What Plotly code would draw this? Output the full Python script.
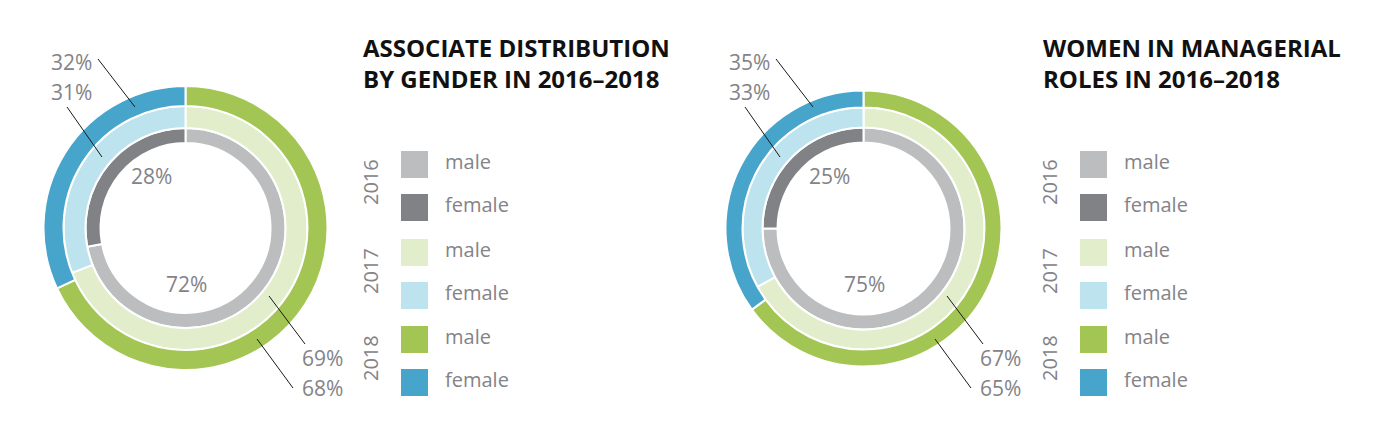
import plotly.graph_objects as go

W, H = 1384, 444
OFF = 8  # browser body margin compensation

years = ["2016", "2017", "2018"]
genders = ["male", "female"]
assoc_male = [72, 69, 68]
assoc_female = [28, 31, 32]
mgr_male = [75, 67, 65]
mgr_female = [25, 33, 35]
titles = ["ASSOCIATE DISTRIBUTION<br>BY GENDER IN 2016–2018",
          "WOMEN IN MANAGERIAL<br>ROLES IN 2016–2018"]

male_colors = ["#bcbdbf", "#e2edcb", "#a2c554"]
female_colors = ["#808285", "#bde3ee", "#47a4cb"]
TXT = "#838388"
FONT = "Open Sans"

fig = go.Figure()


def xp(v):
    return (v - OFF) / W


def yp(v):
    return 1 - (v - OFF) / H


def px_domain(cx, cy, r):
    return dict(x=[xp(cx - r), xp(cx + r)], y=[yp(cy + r), yp(cy - r)])


charts = [
    dict(cx=185.5, cy=228, rings=[(100, 85), (122, 100), (142, 122)],
         male=assoc_male, female=assoc_female, tx=362, lx=401),
    dict(cx=863.5, cy=228.5, rings=[(101, 86), (121, 101), (138, 121)],
         male=mgr_male, female=mgr_female, tx=1042, lx=1080),
]

for c in charts:
    for i, (ro, ri) in enumerate(c["rings"]):
        fig.add_trace(go.Pie(
            values=[c["male"][i], c["female"][i]],
            labels=[f"{years[i]} male", f"{years[i]} female"],
            marker=dict(colors=[male_colors[i], female_colors[i]],
                        line=dict(color="white", width=2)),
            hole=ri / ro, sort=False, direction="clockwise", rotation=0,
            textinfo="none", showlegend=False, hoverinfo="label+value",
            domain=px_domain(c["cx"], c["cy"], ro),
        ))

anns = []
shapes = []


def label(x, y, text, xanchor="center", size=21, color=TXT, **kw):
    anns.append(dict(x=xp(x), y=yp(y), xref="paper", yref="paper", text=text,
                     showarrow=False, xanchor=xanchor, yanchor="middle",
                     font=dict(family=FONT, size=size, color=color), **kw))


def line(x0, y0, x1, y1):
    shapes.append(dict(type="line", xref="paper", yref="paper",
                       x0=xp(x0), y0=yp(y0), x1=xp(x1), y1=yp(y1),
                       line=dict(color="#1a1a1a", width=1)))


ox = [0, 678]
for k, c in enumerate(charts):
    dx = ox[k]
    m, f = c["male"], c["female"]
    label(94 + dx, 62, f"{f[2]}%", xanchor="right")
    label(94 + dx, 92, f"{f[1]}%", xanchor="right")
    line(98 + dx, 59, 135 + dx, 107)
    line(67 + dx, 107, 102 + dx, 157)
    label(151 + dx, 176, f"{f[0]}%")
    label(186 + dx, 284, f"{m[0]}%")
    label(300 + dx, 358, f"{m[1]}%", xanchor="left")
    label(300 + dx, 388, f"{m[2]}%", xanchor="left")
    line(269 + dx, 296, 305 + dx, 344)
    line(257 + dx, 339, 293 + dx, 388)

    anns.append(dict(x=xp(c["tx"] - 1), y=yp(63), xref="paper", yref="paper",
                     text=f"<b>{titles[k]}</b>", showarrow=False,
                     xanchor="left", yanchor="middle", align="left",
                     font=dict(family=FONT, size=24, color="#111111")))
    lx = c["lx"]
    sq_y = [164.5, 207.5, 252.5, 295.5, 339.5, 382.5]
    cols = []
    names = []
    for i in range(3):
        cols += [male_colors[i], female_colors[i]]
        names += genders
    for j, yy in enumerate(sq_y):
        shapes.append(dict(type="rect", xref="paper", yref="paper",
                           x0=xp(lx), x1=xp(lx + 27), y0=yp(yy + 13.5), y1=yp(yy - 13.5),
                           fillcolor=cols[j], line=dict(width=0)))
        label(lx + 42, yy - 3, names[j], xanchor="left", size=20)
    for i, yy in enumerate([182, 271, 358]):
        anns.append(dict(x=xp(lx - 31), y=yp(yy), xref="paper", yref="paper",
                         text=years[i], showarrow=False, textangle=-90,
                         xanchor="center", yanchor="middle",
                         font=dict(family=FONT, size=20, color=TXT)))

fig.update_layout(
    width=W, height=H, margin=dict(l=0, r=0, t=0, b=0),
    paper_bgcolor="white", plot_bgcolor="white",
    annotations=anns, shapes=shapes, showlegend=False,
    font=dict(family=FONT),
)

fig.write_html("out.html")
